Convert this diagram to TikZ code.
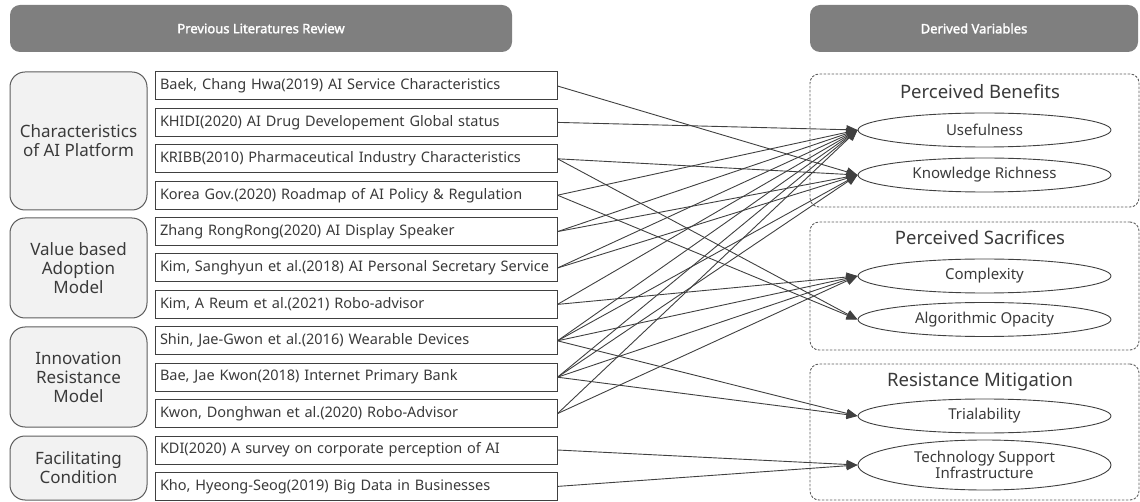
\documentclass[tikz,border=0pt]{standalone}
\usepackage{fontspec}
\setmainfont{Noto Sans}
\newfontfamily\hdrfont{Noto Sans}[FakeBold=2]
\usetikzlibrary{shapes.geometric,arrows.meta}
\definecolor{hdr}{HTML}{7F7F7F}
\definecolor{catfill}{HTML}{F2F2F2}
\definecolor{edge}{HTML}{404040}
\definecolor{txt}{HTML}{3A3A3A}
\tikzset{
  header/.style={draw=none, fill=hdr, rounded corners=10pt, text=white, font=\hdrfont\fontsize{13}{15}\selectfont, inner sep=0pt},
  catbox/.style={draw=edge!85, line width=1pt, fill=catfill, rounded corners=15pt, minimum width=137pt, text=txt, align=center, font=\fontsize{17}{19}\selectfont, inner sep=0pt},
  litbox/.style={draw=edge, line width=1pt, fill=white, minimum height=28pt, text width=392pt, inner xsep=5pt, inner ysep=0pt, align=left, text=txt, font=\fontsize{14.5}{16}\selectfont},
  group/.style={draw=edge!85, dash pattern=on 2.5pt off 1.5pt, line width=0.9pt, rounded corners=9pt},
  grouptitle/.style={text=txt, font=\fontsize{18.5}{20}\selectfont, inner sep=0pt},
  var/.style={draw=edge, line width=0.9pt, ellipse, minimum width=253pt, minimum height=34pt, inner sep=0pt, text=txt, align=center, font=\fontsize{15}{17}\selectfont},
  link/.style={draw=edge, line width=0.9pt, -{Triangle[length=11pt,width=9pt]}}
}
\begin{document}
\begin{tikzpicture}[x=1pt,y=-1pt]
\useasboundingbox (0,0) rectangle (1140,502);
% headers
\node[header, minimum width=502pt, minimum height=47pt] (hl) at (261,28.5) {Previous Literatures Review};
\node[header, minimum width=328pt, minimum height=47pt] (hr) at (974,28.5) {Derived Variables};
% category boxes
\node[catbox, minimum height=138pt] (c1) at (78.5,141) {Characteristics\\of AI Platform};
\node[catbox, minimum height=100pt] (c2) at (78.5,268) {Value based\\Adoption\\Model};
\node[catbox, minimum height=100pt] (c3) at (78.5,377) {Innovation\\Resistance\\Model};
\node[catbox, minimum height=64pt] (c4) at (78.5,468) {Facilitating\\Condition};
% literature boxes
\node[litbox] (b1) at (356,86) {Baek, Chang Hwa(2019) AI Service Characteristics};
\node[litbox] (b2) at (356,122.4) {KHIDI(2020) AI Drug Developement Global status};
\node[litbox] (b3) at (356,158.8) {KRIBB(2010) Pharmaceutical Industry Characteristics};
\node[litbox] (b4) at (356,195.2) {Korea Gov.(2020) Roadmap of AI Policy \& Regulation};
\node[litbox] (b5) at (356,231.6) {Zhang RongRong(2020) AI Display Speaker};
\node[litbox] (b6) at (356,268) {Kim, Sanghyun et al.(2018) AI Personal Secretary Service};
\node[litbox] (b7) at (356,304.4) {Kim, A Reum et al.(2021) Robo-advisor};
\node[litbox] (b8) at (356,340.8) {Shin, Jae-Gwon et al.(2016) Wearable Devices};
\node[litbox] (b9) at (356,377.2) {Bae, Jae Kwon(2018) Internet Primary Bank};
\node[litbox] (b10) at (356,413.6) {Kwon, Donghwan et al.(2020) Robo-Advisor};
\node[litbox] (b11) at (356,450) {KDI(2020) A survey on corporate perception of AI};
\node[litbox] (b12) at (356,486.4) {Kho, Hyeong-Seog(2019) Big Data in Businesses};
% groups
\node[group, minimum width=329pt, minimum height=133pt] (g1) at (974.5,140.5) {};
\node[group, minimum width=329pt, minimum height=128pt] (g2) at (974.5,286) {};
\node[group, minimum width=329pt, minimum height=136pt] (g3) at (974.5,432) {};
\node[grouptitle] (t1) at (980,92) {Perceived Benefits};
\node[grouptitle] (t2) at (980,238) {Perceived Sacrifices};
\node[grouptitle] (t3) at (980,382) {Resistance Mitigation};
% variables
\node[var] (u) at (984.5,130) {Usefulness};
\node[var] (kr) at (984.5,175) {Knowledge Richness};
\node[var] (cx) at (984.5,276) {Complexity};
\node[var] (ao) at (984.5,319.5) {Algorithmic Opacity};
\node[var] (tr) at (984.5,416) {Trialability};
\node[var, minimum height=50pt, font=\fontsize{15}{16.5}\selectfont] (ts) at (984.5,465) {Technology Support\\Infrastructure};
% links
\foreach \s/\t in {b1/kr, b2/u, b3/kr, b3/ao, b4/u, b4/ao, b5/u, b5/kr, b6/u, b6/kr,
  b7/u, b7/cx, b8/u, b8/kr, b8/cx, b8/tr, b9/u, b9/kr, b9/cx, b9/tr, b10/u, b10/cx, b11/ts, b12/ts}
  \draw[link] (\s.east) -- (\t.west);
\end{tikzpicture}
\end{document}
